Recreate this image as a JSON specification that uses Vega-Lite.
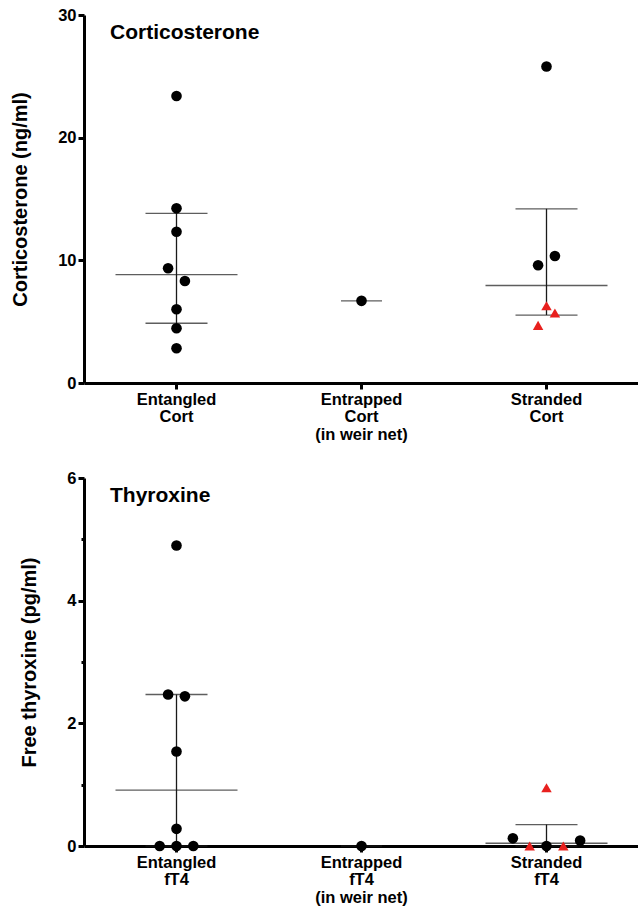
{
  "$schema": "https://vega.github.io/schema/vega-lite/v6.json",
  "padding": {"left": 10, "top": 7, "right": 0, "bottom": 0},
  "bounds": "flush",
  "spacing": 95,
  "config": {
    "font": "Liberation Sans",
    "view": {"stroke": null},
    "axis": {"grid": false, "labelFont": "Liberation Sans", "labelFontSize": 16.5, "labelFontWeight": "bold", "labelColor": "black", "titleFont": "Liberation Sans", "titleColor": "black", "domainColor": "black", "domainWidth": 3, "tickColor": "black", "tickWidth": 3, "tickSize": 6}
  },
  "datasets": {
    "cortPts": [
      {"g": "Entangled|Cort", "v": 23.4, "j": 0, "m": "circle"},
      {"g": "Entangled|Cort", "v": 14.24, "j": 0, "m": "circle"},
      {"g": "Entangled|Cort", "v": 12.33, "j": 0, "m": "circle"},
      {"g": "Entangled|Cort", "v": 9.35, "j": -0.5, "m": "circle"},
      {"g": "Entangled|Cort", "v": 8.32, "j": 0.5, "m": "circle"},
      {"g": "Entangled|Cort", "v": 6.01, "j": 0, "m": "circle"},
      {"g": "Entangled|Cort", "v": 4.46, "j": 0, "m": "circle"},
      {"g": "Entangled|Cort", "v": 2.83, "j": 0, "m": "circle"},
      {"g": "Entrapped|Cort|(in weir net)", "v": 6.7, "j": 0, "m": "circle"},
      {"g": "Stranded|Cort", "v": 25.8, "j": 0, "m": "circle"},
      {"g": "Stranded|Cort", "v": 10.35, "j": 0.5, "m": "circle"},
      {"g": "Stranded|Cort", "v": 9.6, "j": -0.5, "m": "circle"},
      {"g": "Stranded|Cort", "v": 6.3, "j": 0, "m": "triangle"},
      {"g": "Stranded|Cort", "v": 5.7, "j": 0.5, "m": "triangle"},
      {"g": "Stranded|Cort", "v": 4.7, "j": -0.5, "m": "triangle"}
    ],
    "cortSum": [
      {"g": "Entangled|Cort", "med": 8.83, "q1": 4.87, "q3": 13.83, "n": 8},
      {"g": "Entrapped|Cort|(in weir net)", "med": 6.7, "q1": 6.7, "q3": 6.7, "n": 1},
      {"g": "Stranded|Cort", "med": 7.95, "q1": 5.54, "q3": 14.2, "n": 6}
    ],
    "t4Pts": [
      {"g": "Entangled|fT4", "v": 4.9, "j": 0, "m": "circle"},
      {"g": "Entangled|fT4", "v": 2.47, "j": -0.5, "m": "circle"},
      {"g": "Entangled|fT4", "v": 2.44, "j": 0.5, "m": "circle"},
      {"g": "Entangled|fT4", "v": 1.54, "j": 0, "m": "circle"},
      {"g": "Entangled|fT4", "v": 0.28, "j": 0, "m": "circle"},
      {"g": "Entangled|fT4", "v": 0, "j": -1, "m": "circle"},
      {"g": "Entangled|fT4", "v": 0, "j": 0, "m": "circle"},
      {"g": "Entangled|fT4", "v": 0, "j": 1, "m": "circle"},
      {"g": "Entrapped|fT4|(in weir net)", "v": 0, "j": 0, "m": "circle"},
      {"g": "Stranded|fT4", "v": 0.95, "j": 0, "m": "triangle"},
      {"g": "Stranded|fT4", "v": 0.125, "j": -2, "m": "circle"},
      {"g": "Stranded|fT4", "v": 0.09, "j": 2, "m": "circle"},
      {"g": "Stranded|fT4", "v": 0, "j": 0, "m": "circle"},
      {"g": "Stranded|fT4", "v": 0, "j": -1, "m": "triangle"},
      {"g": "Stranded|fT4", "v": 0, "j": 1, "m": "triangle"}
    ],
    "t4Sum": [
      {"g": "Entangled|fT4", "med": 0.91, "q1": 0, "q3": 2.47, "n": 8},
      {"g": "Entrapped|fT4|(in weir net)", "med": 0, "q1": 0, "q3": 0, "n": 1},
      {"g": "Stranded|fT4", "med": 0.045, "q1": 0, "q3": 0.35, "n": 6}
    ]
  },
  "vconcat": [
    {
      "width": 555,
      "height": 368,
      "title": {"text": "Corticosterone", "anchor": "start", "frame": "group", "orient": "top", "offset": 0, "baseline": "alphabetic", "dx": 26, "dy": 53, "fontSize": 21, "fontWeight": "bold", "font": "Liberation Sans", "color": "black"},
      "encoding": {
        "x": {"field": "g", "type": "nominal", "sort": ["Entangled|Cort", "Entrapped|Cort|(in weir net)", "Stranded|Cort"], "scale": {"paddingInner": 0, "paddingOuter": 0}, "axis": {"title": null, "labelAngle": 0, "labelExpr": "split(datum.label, '|')", "labelLineHeight": 17.5, "labelPadding": 2, "labelBaseline": "top"}}
      },
      "layer": [
        {
          "data": {"name": "cortSum"},
          "transform": [{"filter": "datum.n > 1"}],
          "mark": {"type": "rule", "color": "#1a1a1a", "strokeWidth": 1.3},
          "encoding": {
            "y": {"field": "q1", "type": "quantitative", "scale": {"domain": [0, 30], "nice": false, "zero": true}, "axis": {"values": [0, 10, 20, 30], "format": "d", "title": "Corticosterone (ng/ml)", "titleFontSize": 20, "titleFontWeight": "bold", "titlePadding": 27, "labelPadding": 2, "labelOverlap": false}},
            "y2": {"field": "q3"}
          }
        },
        {
          "data": {"name": "cortSum"},
          "mark": {"type": "tick", "orient": "horizontal", "color": "#1a1a1a", "thickness": 1.3},
          "encoding": {
            "y": {"field": "med", "type": "quantitative"},
            "size": {"condition": {"test": "datum.n == 1", "value": 41}, "value": 122}
          }
        },
        {
          "data": {"name": "cortSum"},
          "transform": [{"filter": "datum.n > 1"}],
          "mark": {"type": "tick", "orient": "horizontal", "color": "#1a1a1a", "thickness": 1.3, "size": 62},
          "encoding": {"y": {"field": "q1", "type": "quantitative"}}
        },
        {
          "data": {"name": "cortSum"},
          "transform": [{"filter": "datum.n > 1"}],
          "mark": {"type": "tick", "orient": "horizontal", "color": "#1a1a1a", "thickness": 1.3, "size": 62},
          "encoding": {"y": {"field": "q3", "type": "quantitative"}}
        },
        {
          "data": {"name": "cortPts"},
          "mark": {"type": "point", "filled": true, "opacity": 1},
          "encoding": {
            "y": {"field": "v", "type": "quantitative"},
            "xOffset": {"field": "j", "type": "quantitative", "scale": {"domain": [-5.5, 5.5]}},
            "shape": {"field": "m", "type": "nominal", "scale": {"domain": ["circle", "triangle"], "range": ["circle", "triangle-up"]}, "legend": null},
            "color": {"field": "m", "type": "nominal", "scale": {"domain": ["circle", "triangle"], "range": ["black", "#e8201e"]}, "legend": null},
            "size": {"condition": {"test": "datum.m == 'triangle'", "value": 110}, "value": 113}
          }
        }
      ]
    },
    {
      "width": 555,
      "height": 368,
      "title": {"text": "Thyroxine", "anchor": "start", "frame": "group", "orient": "top", "offset": 0, "baseline": "alphabetic", "dx": 26, "dy": 53, "fontSize": 21, "fontWeight": "bold", "font": "Liberation Sans", "color": "black"},
      "encoding": {
        "x": {"field": "g", "type": "nominal", "sort": ["Entangled|fT4", "Entrapped|fT4|(in weir net)", "Stranded|fT4"], "scale": {"paddingInner": 0, "paddingOuter": 0}, "axis": {"title": null, "labelAngle": 0, "labelExpr": "split(datum.label, '|')", "labelLineHeight": 17.5, "labelPadding": 2, "labelBaseline": "top"}}
      },
      "layer": [
        {
          "data": {"name": "t4Sum"},
          "transform": [{"filter": "datum.n > 1"}],
          "mark": {"type": "rule", "color": "#1a1a1a", "strokeWidth": 1.3},
          "encoding": {
            "y": {"field": "q1", "type": "quantitative", "scale": {"domain": [0, 6], "nice": false, "zero": true}, "axis": {"values": [0, 1, 2, 3, 4, 5, 6], "format": "d", "labelExpr": "datum.value % 2 ? '' : datum.label", "tickSize": {"condition": {"test": "datum.value % 2 == 1", "value": 3}, "value": 6}, "title": "Free thyroxine (pg/ml)", "titleFontSize": 20, "titleFontWeight": "bold", "titlePadding": 27, "labelPadding": 2, "labelOverlap": false}},
            "y2": {"field": "q3"}
          }
        },
        {
          "data": {"name": "t4Sum"},
          "mark": {"type": "tick", "orient": "horizontal", "color": "#1a1a1a", "thickness": 1.3},
          "encoding": {
            "y": {"field": "med", "type": "quantitative"},
            "size": {"condition": {"test": "datum.n == 1", "value": 41}, "value": 122}
          }
        },
        {
          "data": {"name": "t4Sum"},
          "transform": [{"filter": "datum.n > 1"}],
          "mark": {"type": "tick", "orient": "horizontal", "color": "#1a1a1a", "thickness": 1.3, "size": 62},
          "encoding": {"y": {"field": "q1", "type": "quantitative"}}
        },
        {
          "data": {"name": "t4Sum"},
          "transform": [{"filter": "datum.n > 1"}],
          "mark": {"type": "tick", "orient": "horizontal", "color": "#1a1a1a", "thickness": 1.3, "size": 62},
          "encoding": {"y": {"field": "q3", "type": "quantitative"}}
        },
        {
          "data": {"name": "t4Pts"},
          "mark": {"type": "point", "filled": true, "opacity": 1},
          "encoding": {
            "y": {"field": "v", "type": "quantitative"},
            "xOffset": {"field": "j", "type": "quantitative", "scale": {"domain": [-5.5, 5.5]}},
            "shape": {"field": "m", "type": "nominal", "scale": {"domain": ["circle", "triangle"], "range": ["circle", "triangle-up"]}, "legend": null},
            "color": {"field": "m", "type": "nominal", "scale": {"domain": ["circle", "triangle"], "range": ["black", "#e8201e"]}, "legend": null},
            "size": {"condition": {"test": "datum.m == 'triangle'", "value": 110}, "value": 113}
          }
        }
      ]
    }
  ]
}
